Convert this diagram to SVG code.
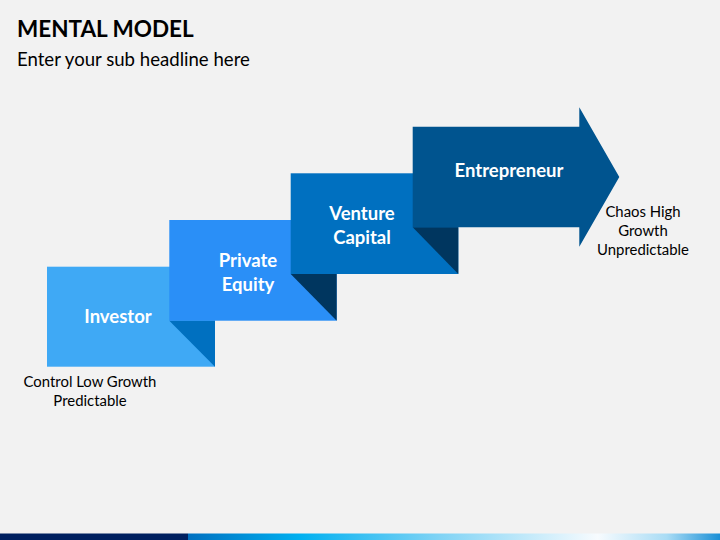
<svg xmlns="http://www.w3.org/2000/svg" width="720" height="540" viewBox="0 0 720 540">
  <defs>
    <linearGradient id="barGrad" x1="188" y1="0" x2="720" y2="0" gradientUnits="userSpaceOnUse">
      <stop offset="0" stop-color="#0070c0"/>
      <stop offset="0.21" stop-color="#00b0f0"/>
      <stop offset="0.47" stop-color="#7fd3f5"/>
      <stop offset="0.77" stop-color="#f7fbfe"/>
      <stop offset="0.9" stop-color="#a9dcf5"/>
      <stop offset="1" stop-color="#1a8fd6"/>
    </linearGradient>
  </defs>
  <style>
    .title { font-family: Lato, "Open Sans", sans-serif; font-weight: bold; font-size: 22.5px; fill: #000; }
    .sub { font-family: Lato, "Open Sans", sans-serif; font-size: 18.6px; fill: #000; }
    .lbl { font-family: Lato, "Open Sans", sans-serif; font-weight: bold; font-size: 18.5px; fill: #fff; text-anchor: middle; }
    .note { font-family: Lato, "Open Sans", sans-serif; font-size: 14.9px; fill: #000; text-anchor: middle; }
    .fold { fill: #00365f; }
  </style>
  <rect x="0" y="0" width="720" height="540" fill="#f2f2f2"/>
  <text class="title" x="17" y="37">MENTAL MODEL</text>
  <text class="sub" x="17" y="66">Enter your sub headline here</text>

  <g id="investor">
    <rect x="47" y="266.7" width="168" height="100" fill="#3fa9f5"/>
    <polygon points="169.3,320.7 215,320.7 215,366.7" fill="#0070c0"/>
    <text class="lbl" x="118" y="322.5">Investor</text>
  </g>
  <g id="private-equity">
    <rect x="169.3" y="220" width="167.4" height="100.7" fill="#2a8ff7"/>
    <polygon points="290.7,274 336.7,274 336.7,320.7" class="fold"/>
    <text class="lbl" x="248" y="266.5">Private</text>
    <text class="lbl" x="248" y="290.5">Equity</text>
  </g>
  <g id="venture-capital">
    <rect x="290.7" y="173.3" width="167.6" height="100.7" fill="#0070c0"/>
    <polygon points="412.7,227.3 458.3,227.3 458.3,274" class="fold"/>
    <text class="lbl" x="362" y="219.5">Venture</text>
    <text class="lbl" x="362" y="243.5">Capital</text>
  </g>
  <g id="entrepreneur">
    <polygon points="412.7,126.7 579.3,126.7 579.3,107.3 619.3,177 579.3,246.7 579.3,227.3 412.7,227.3" fill="#00548f"/>
    <text class="lbl" x="509" y="176.5">Entrepreneur</text>
  </g>

  <g id="connectors"></g>

  <g id="notes">
    <text class="note" x="90" y="387">Control Low Growth</text>
    <text class="note" x="90" y="406">Predictable</text>
    <text class="note" x="643" y="217">Chaos High</text>
    <text class="note" x="643" y="236">Growth</text>
    <text class="note" x="643" y="255">Unpredictable</text>
  </g>

  <rect x="0" y="533.5" width="188" height="6.5" fill="#002060"/>
  <rect x="188" y="533.5" width="532" height="6.5" fill="url(#barGrad)"/>
</svg>
